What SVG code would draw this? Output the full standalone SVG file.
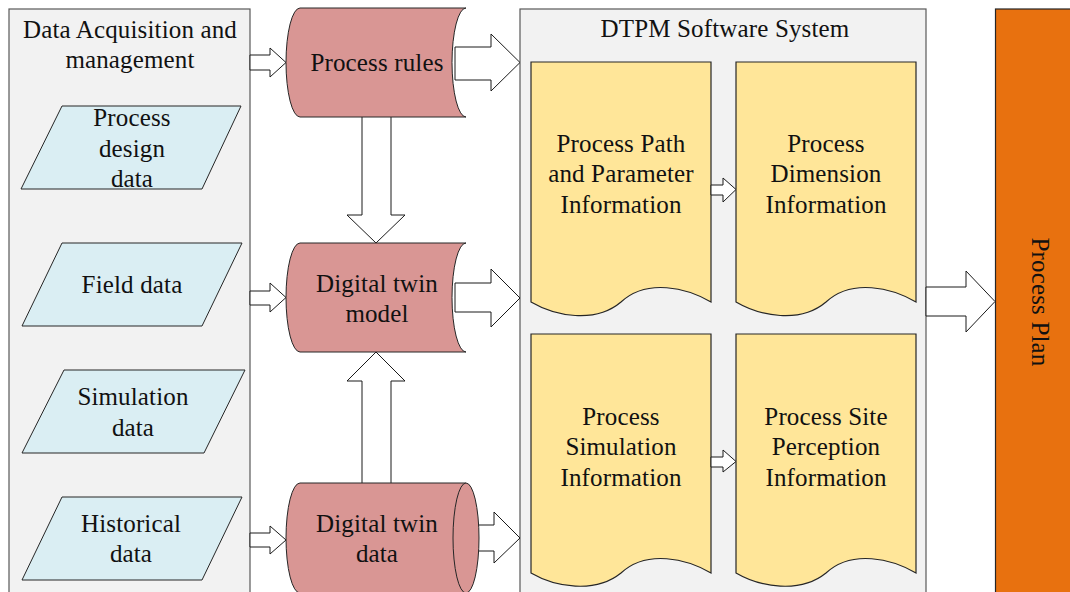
<svg xmlns="http://www.w3.org/2000/svg" width="1070" height="592" viewBox="0 0 1070 592">
  <style>
    text { font-family: 'Liberation Serif', 'DejaVu Serif', 'Times New Roman', Times, serif; font-size: 25px; letter-spacing: 0.15px; fill: #111; text-anchor: middle; }
    .panel { fill: #F2F2F2; stroke: #595959; stroke-width: 1.2; }
    .input { fill: #DAEEF3; stroke: #262626; stroke-width: 1; }
    .store { fill: #D99694; stroke: #262626; stroke-width: 1; }
    .doc { fill: #FFE699; stroke: #262626; stroke-width: 1.2; }
    .plan { fill: #E8710F; stroke: #262626; stroke-width: 1.2; }
    .arrow { fill: #FFFFFF; stroke: #1a1a1a; stroke-width: 1; stroke-linejoin: miter; }
  </style>

  <!-- containers -->
  <g id="data-acquisition">
    <rect class="panel" x="9" y="9" width="241" height="600"/>
    <text x="130" y="38">Data Acquisition and</text>
    <text x="130" y="68">management</text>
  </g>
  <g id="dtpm-system">
    <rect class="panel" x="520" y="9" width="406" height="600"/>
    <text x="725" y="37">DTPM Software System</text>
  </g>
  <g id="process-plan">
    <rect class="plan" x="995.5" y="9" width="80" height="600"/>
    <text transform="translate(1032,302) rotate(90)">Process Plan</text>
  </g>

  <!-- block arrows -->
  <g id="connectors">
    <polygon class="arrow" points="250,55 270,55 270,48 286,62.5 270,77 270,70 250,70"/>
    <polygon class="arrow" points="250,291 270,291 270,283 286,297.5 270,312 270,305 250,305"/>
    <polygon class="arrow" points="250,533 270,533 270,526 286,540 270,554 270,547 250,547"/>
    <polygon class="arrow" points="455,47 491,47 491,34 520,62.5 491,91 491,80 455,80"/>
    <polygon class="arrow" points="455,283 491,283 491,269 520,298 491,327 491,312 455,312"/>
    <polygon class="arrow" points="475,525 494,525 494,512 520,538 494,563 494,551 475,551"/>
    <polygon class="arrow" points="362,112 391,112 391,215 405,215 376,243 347,215 362,215"/>
    <polygon class="arrow" points="362,488 362,381 347,381 376,352 405,381 391,381 391,488"/>
    <polygon class="arrow" points="926,287 966,287 966,271 995,301.5 966,332 966,316 926,316"/>
  </g>

  <!-- data inputs -->
  <g id="process-design-data">
    <polygon class="input" points="62,106 241,106 202,189 21,189"/>
    <text x="132" y="126">Process</text>
    <text x="132" y="157">design</text>
    <text x="132" y="187">data</text>
  </g>
  <g id="field-data">
    <polygon class="input" points="62,243 242,243 202,326 22,326"/>
    <text x="132" y="293">Field data</text>
  </g>
  <g id="simulation-data">
    <polygon class="input" points="64,370 245,370 204,453 22,453"/>
    <text x="133" y="405">Simulation</text>
    <text x="133" y="436">data</text>
  </g>
  <g id="historical-data">
    <polygon class="input" points="62,497 242,497 202,580 22,580"/>
    <text x="131" y="532">Historical</text>
    <text x="131" y="562">data</text>
  </g>

  <!-- twin components -->
  <g id="process-rules">
    <path class="store" d="M300,8 H466 A14,54.5 0 0 0 466,117 H300 A14,54.5 0 0 1 300,8 Z"/>
    <text x="377" y="71">Process rules</text>
  </g>
  <g id="digital-twin-model">
    <path class="store" d="M300,243 H466 A14,54.5 0 0 0 466,352 H300 A14,54.5 0 0 1 300,243 Z"/>
    <text x="377" y="292">Digital twin</text>
    <text x="377" y="322">model</text>
  </g>
  <g id="digital-twin-data">
    <path class="store" d="M300,483 H466 A13,55 0 0 1 466,593 H300 A14,55 0 0 1 300,483 Z"/>
    <path class="store" d="M466,483 A13,55 0 0 0 466,593" fill="none"/>
    <text x="377" y="532">Digital twin</text>
    <text x="377" y="562">data</text>
  </g>

  <!-- information documents -->
  <g id="path-parameter-info">
    <path class="doc" d="M531,62 H711 V302 C687,288 647,278 621,302 C595,324 555,316 531,302 Z"/>
    <text x="621" y="152">Process Path</text>
    <text x="621" y="182">and Parameter</text>
    <text x="621" y="213">Information</text>
  </g>
  <g id="dimension-info">
    <path class="doc" d="M736,62 H916 V302 C892,288 852,278 826,302 C800,324 760,316 736,302 Z"/>
    <text x="826" y="152">Process</text>
    <text x="826" y="182">Dimension</text>
    <text x="826" y="213">Information</text>
  </g>
  <g id="simulation-info">
    <path class="doc" d="M531,334 H711 V573 C687,559 647,549 621,573 C595,594 555,587 531,573 Z"/>
    <text x="621" y="425">Process</text>
    <text x="621" y="455">Simulation</text>
    <text x="621" y="486">Information</text>
  </g>
  <g id="site-perception-info">
    <path class="doc" d="M736,334 H916 V573 C892,559 852,549 826,573 C800,594 760,587 736,573 Z"/>
    <text x="826" y="425">Process Site</text>
    <text x="826" y="455">Perception</text>
    <text x="826" y="486">Information</text>
  </g>

  <!-- small arrows between documents -->
  <g id="connectors-inner">
    <polygon class="arrow" points="711,185 723,185 723,178 736,189.5 723,202 723,195 711,195"/>
    <polygon class="arrow" points="711,457 723,457 723,450 736,461.5 723,472 723,467 711,467"/>
  </g>
</svg>
